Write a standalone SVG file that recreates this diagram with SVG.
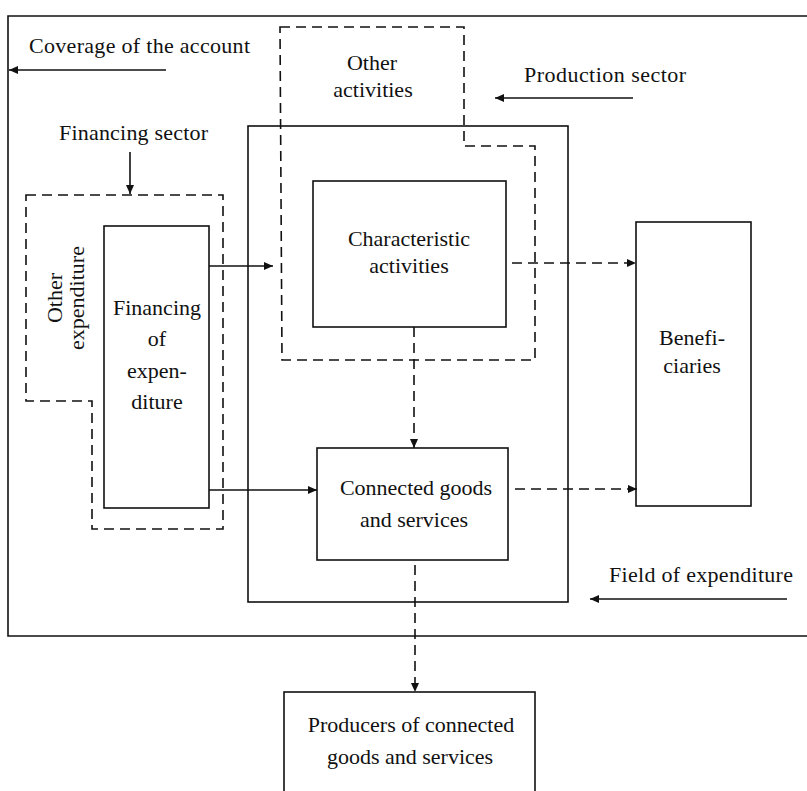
<svg xmlns="http://www.w3.org/2000/svg" width="807" height="791" viewBox="0 0 807 791">
<style>
  .box{fill:none;stroke:#111;stroke-width:1.6}
  .dbox{fill:none;stroke:#111;stroke-width:1.6;stroke-dasharray:10 6}
  .ln{fill:none;stroke:#111;stroke-width:1.6}
  .dln{fill:none;stroke:#111;stroke-width:1.6;stroke-dasharray:10 6}
  text{font-family:"Liberation Serif","Times New Roman",serif;font-size:22px;fill:#111}
  .c{text-anchor:middle}
</style>
<defs>
  <marker id="ah" markerWidth="9" markerHeight="8" refX="9" refY="4" orient="auto" markerUnits="userSpaceOnUse">
    <path d="M0,0 L9,4 L0,8 Z" fill="#111"/>
  </marker>
</defs>
<rect width="807" height="791" fill="#fff"/>

<g id="coverage">
  <path class="box" d="M807 16 H8 V636 H807"/>
  <text x="29" y="53" textLength="221" lengthAdjust="spacing">Coverage of the account</text>
</g>

<g id="financing-sector">
  <text x="59" y="140" textLength="149" lengthAdjust="spacing">Financing sector</text>
</g>

<g id="other-expenditure">
  <path class="dbox" d="M26 195 H223 V529 H92 V401 H26 Z"/>
  <text class="c" transform="translate(62,298) rotate(-90)">Other</text>
  <text class="c" transform="translate(84,298) rotate(-90)">expenditure</text>
</g>

<g id="financing-of-expenditure">
  <rect class="box" x="104" y="226" width="105" height="282"/>
  <text class="c" x="157" y="315">Financing</text>
  <text class="c" x="157" y="346">of</text>
  <text class="c" x="157" y="378">expen-</text>
  <text class="c" x="157" y="409">diture</text>
</g>

<g id="other-activities">
  <path class="dbox" d="M280 27 H464 V146 H535 V360 H282 Z"/>
  <text class="c" x="372" y="70">Other</text>
  <text class="c" x="373" y="97">activities</text>
</g>

<g id="production-sector">
  <rect class="box" x="248" y="126" width="320" height="476"/>
  <text x="524" y="82" textLength="162" lengthAdjust="spacing">Production sector</text>
</g>

<g id="characteristic-activities">
  <rect class="box" x="313" y="181" width="193" height="146"/>
  <text class="c" x="409" y="246">Characteristic</text>
  <text class="c" x="409" y="273">activities</text>
</g>

<g id="connected-goods">
  <rect class="box" x="317" y="448" width="191" height="112"/>
  <text class="c" x="416" y="495">Connected goods</text>
  <text class="c" x="414" y="527">and services</text>
</g>

<g id="beneficiaries">
  <rect class="box" x="636" y="222" width="115" height="284"/>
  <text class="c" x="692" y="345">Benefi-</text>
  <text class="c" x="692" y="373">ciaries</text>
</g>

<g id="producers">
  <rect class="box" x="284" y="692" width="251" height="120"/>
  <text class="c" x="411" y="732">Producers of connected</text>
  <text class="c" x="410" y="764">goods and services</text>
</g>

<g id="field-of-expenditure">
  <text x="609" y="582" textLength="184" lengthAdjust="spacing">Field of expenditure</text>
</g>

<g id="connectors">
  <path class="ln" d="M166 70 H9" marker-end="url(#ah)"/>
  <path class="ln" d="M130 152 V194" marker-end="url(#ah)"/>
  <path class="ln" d="M633 98 H495" marker-end="url(#ah)"/>
  <path class="ln" d="M787 599 H590" marker-end="url(#ah)"/>
  <path class="ln" d="M209 266 H273" marker-end="url(#ah)"/>
  <path class="ln" d="M209 490 H317" marker-end="url(#ah)"/>
  <path class="dln" d="M512 263 H636" marker-end="url(#ah)"/>
  <path class="dln" d="M414 327 V448" marker-end="url(#ah)"/>
  <path class="dln" d="M515 489 H637" marker-end="url(#ah)"/>
  <path class="dln" d="M415 565 V692" marker-end="url(#ah)"/>
</g>
</svg>
